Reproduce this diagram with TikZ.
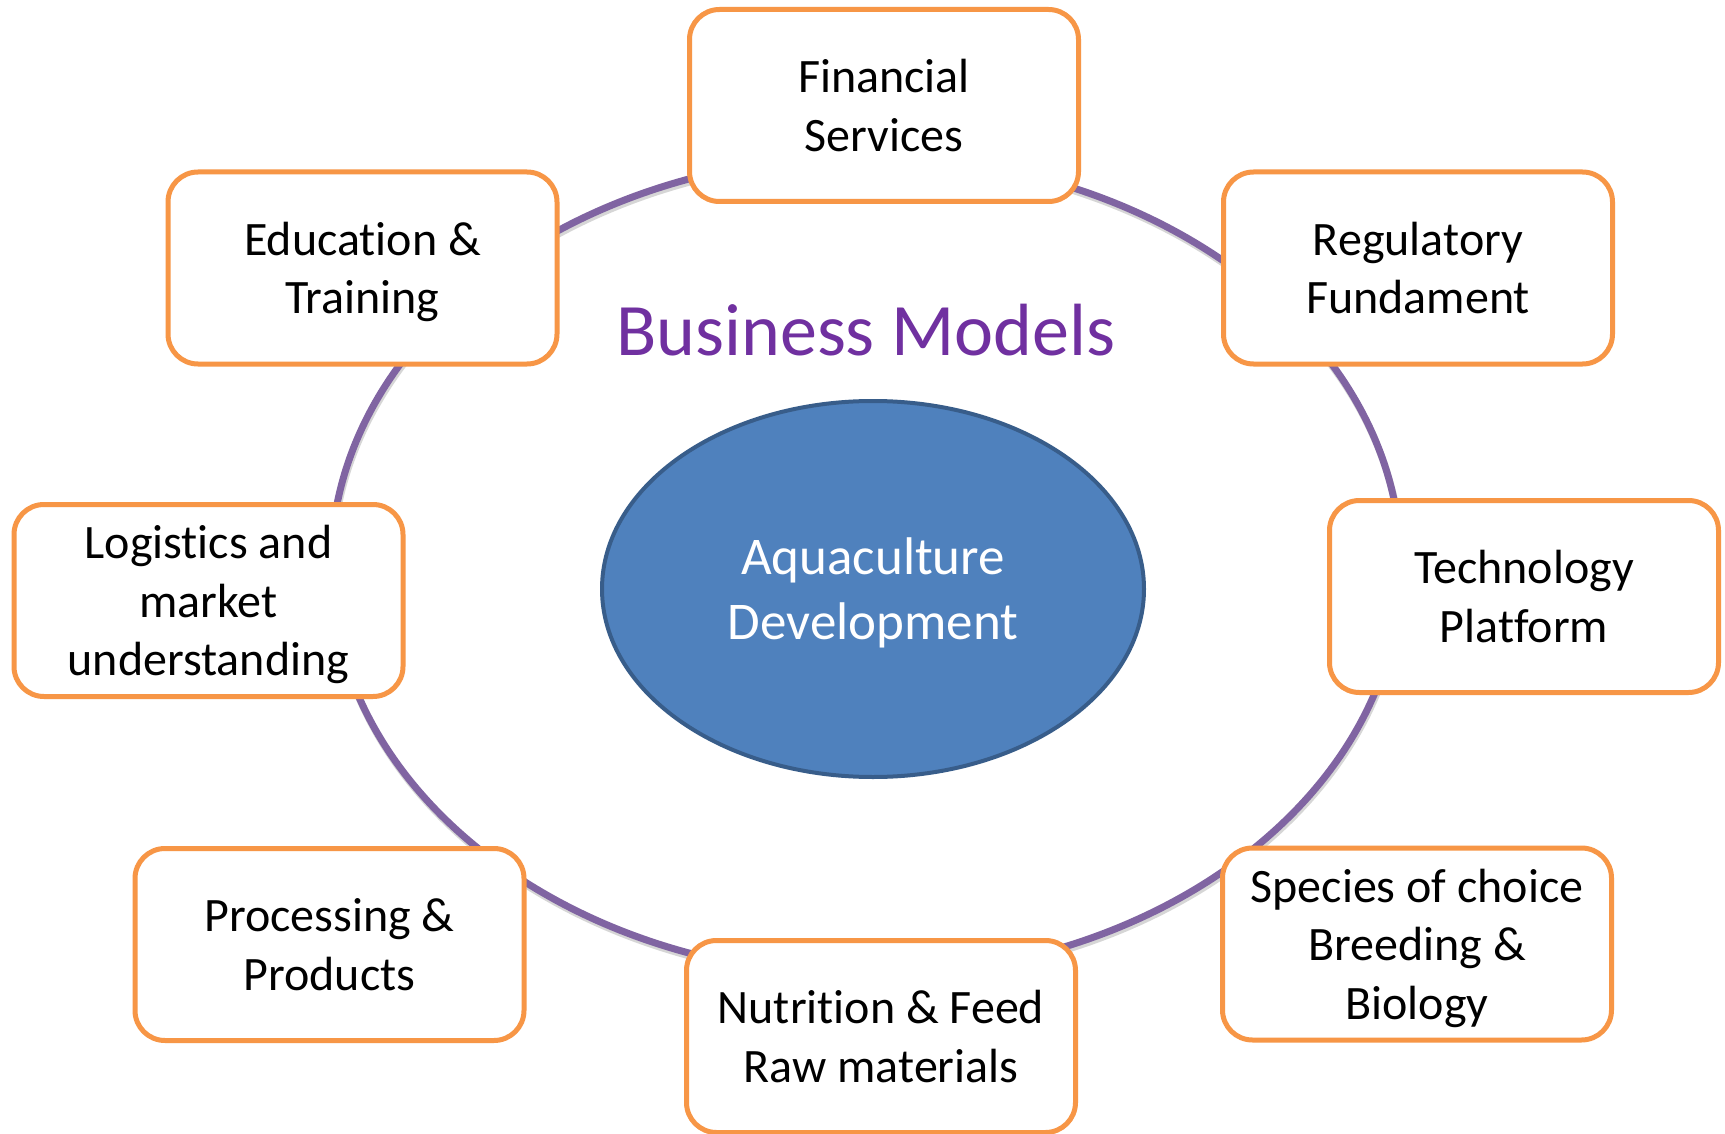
\documentclass[tikz,border=0pt]{standalone}
\usepackage{fontspec}
\setmainfont{Carlito}[Ligatures=NoCommon]
\usetikzlibrary{shapes.geometric}
\definecolor{boxorange}{HTML}{F79646}
\definecolor{ringpurple}{HTML}{8064A2}
\definecolor{corefill}{HTML}{4F81BD}
\definecolor{coreline}{HTML}{385D8A}
\definecolor{titlepurple}{HTML}{7030A0}
\newcommand\topstrut{\rule{0pt}{44pt}}
\newcommand\botstrut{\rule[-11pt]{0pt}{11pt}}
\newcommand\ctopstrut{\rule{0pt}{48pt}}
\newcommand\cbotstrut{\rule[-12pt]{0pt}{12pt}}
\begin{document}
\begin{tikzpicture}[x=1pt,y=-1pt,
  factor/.style={draw=boxorange, line width=5pt, fill=white, rounded corners=30pt,
    minimum width=389pt, minimum height=192pt, inner sep=0pt, align=center,
    text=black, font=\fontsize{48}{58.5}\selectfont},
  ring/.style={ellipse, draw=ringpurple, line width=7pt, minimum width=1070pt,
    minimum height=820pt, inner sep=0pt},
  ringshadow/.style={draw=black!16, line width=7pt},
  core/.style={ellipse, draw=coreline, line width=4pt, fill=corefill,
    minimum width=542pt, minimum height=376pt, inner sep=0pt, align=center,
    text=white, font=\fontsize{53}{64.5}\selectfont},
  title/.style={text=titlepurple, font=\fontsize{74}{88}\selectfont, inner sep=0pt}]
\useasboundingbox (0,0) rectangle (1725,1134);
\fill[white] (0,0) rectangle (1725,1134);
% ring with its soft shadow
\draw[ringshadow] (867,569) ellipse [x radius=535pt, y radius=410pt];
\node[ring] (ring) at (866,566) {};
% factor boxes
\node[factor] (fin)  at (884,105.5)  {\topstrut Financial\\Services\botstrut};
\node[factor] (edu)  at (362.5,268)  {\topstrut Education \&\\Training\botstrut};
\node[factor] (reg)  at (1418,268)   {\topstrut Regulatory\\Fundament\botstrut};
\node[factor] (log)  at (208.5,600.5){\topstrut Logistics and\\market\\understanding\botstrut};
\node[factor] (tech) at (1524,596.5) {\topstrut Technology\\Platform\botstrut};
\node[factor] (proc) at (329.5,944.5){\topstrut Processing \&\\Products\botstrut};
\node[factor] (nut)  at (881,1036.5) {\topstrut Nutrition \& Feed\\Raw materials\botstrut};
\node[factor] (spec) at (1417,944)   {\topstrut Species of choice\\Breeding \&\\Biology\botstrut};
% centre
\node[core] (core) at (873,589) {\ctopstrut Aquaculture\\Development\cbotstrut};
\node[title, anchor=base] (title) at (866,355) {Business Models};
\end{tikzpicture}
\end{document}
